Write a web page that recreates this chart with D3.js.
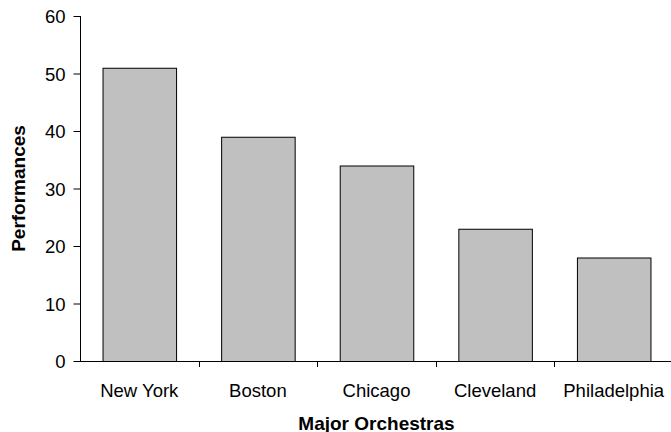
<!DOCTYPE html>
<html><head><meta charset="utf-8">
<script src="https://cdn.jsdelivr.net/npm/d3@7"></script>
<style>body{margin:0;background:#fff}svg{display:block}text{font-family:"Liberation Sans",Arial,sans-serif;fill:#000}</style>
</head><body><svg id="c" width="671" height="432"></svg>
<script>
const categories = ["New York","Boston","Chicago","Cleveland","Philadelphia"];
const performances = [51,39,34,23,18];
const yTicks = [0,10,20,30,40,50,60];
const xTitle = "Major Orchestras";
const yTitle = "Performances";

const svg = d3.select("#c");
const mLeft = 80, mRight = 673, mTop = 16, mBottom = 361;
const x = d3.scaleBand().domain(categories).range([mLeft,mRight]).paddingInner(0.38).paddingOuter(0.19);
const y = d3.scaleLinear().domain([0,60]).range([mBottom,mTop]);

svg.selectAll("rect.bar").data(categories).enter().append("rect")
  .attr("class","bar")
  .attr("x", d=>x(d)+0.5).attr("y", (d,i)=>y(performances[i])+0.5)
  .attr("width", x.bandwidth()).attr("height", (d,i)=>mBottom-y(performances[i]))
  .attr("fill","#c0c0c0").attr("stroke","#000").attr("stroke-width",1);

// y axis
const ya = svg.append("g").attr("transform",`translate(${mLeft+0.5},0)`)
  .call(d3.axisLeft(y).tickValues(yTicks).tickSize(7).tickPadding(8));
ya.selectAll("path.domain").attr("d",`M0,${mTop}V${mBottom}`);
ya.selectAll("text").style("font-size","18.5px").attr("dy","0.36em");
ya.selectAll("line,path").attr("stroke","#000");

// x axis line and separator ticks
const xa = svg.append("g");
xa.append("line").attr("x1",mLeft).attr("x2",mRight).attr("y1",mBottom+0.5).attr("y2",mBottom+0.5).attr("stroke","#000");
const step = x.step();
const seps = d3.range(1,categories.length).map(i=>x(categories[i]) - x.paddingInner()*step/2);
xa.selectAll("line.sep").data(seps).enter().append("line").attr("class","sep")
  .attr("x1",d=>Math.round(d)+0.5).attr("x2",d=>Math.round(d)+0.5)
  .attr("y1",mBottom).attr("y2",mBottom+6).attr("stroke","#000");
xa.selectAll("text.cat").data(categories).enter().append("text").attr("class","cat")
  .attr("x",d=>x(d)+x.bandwidth()/2).attr("y",396.5).attr("text-anchor","middle")
  .style("font-size","18.5px").text(d=>d);

svg.append("text").attr("x",(mLeft+mRight)/2).attr("y",429.5).attr("text-anchor","middle")
  .style("font-size","19px").style("font-weight","bold").text(xTitle);
svg.append("text").attr("transform",`translate(25,${(mTop+mBottom)/2}) rotate(-90)`).attr("text-anchor","middle")
  .style("font-size","19px").style("font-weight","bold").text(yTitle);
</script></body></html>
